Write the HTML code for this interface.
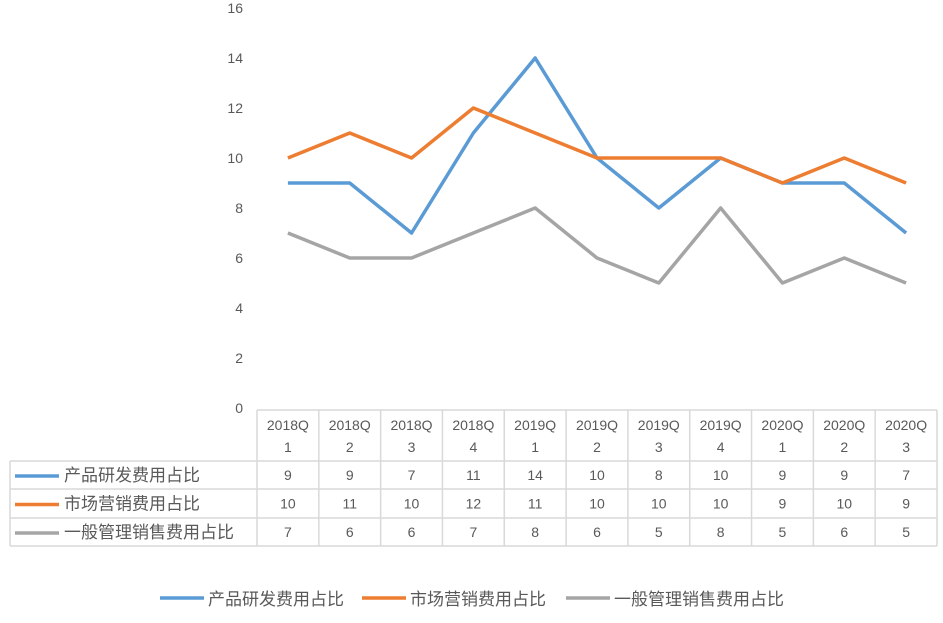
<!DOCTYPE html>
<html><head><meta charset="utf-8"><style>
body{margin:0;background:#fff}
svg text{font-family:"Liberation Sans","Noto Sans CJK SC",sans-serif;fill:#595959}
</style></head><body>
<svg id="chart" width="943" height="618" xmlns="http://www.w3.org/2000/svg"></svg>
<script>
const categories=["2018Q1","2018Q2","2018Q3","2018Q4","2019Q1","2019Q2","2019Q3","2019Q4","2020Q1","2020Q2","2020Q3"];
const seriesNames=["产品研发费用占比","市场营销费用占比","一般管理销售费用占比"];
const seriesColors=["#5b9bd5","#ed7d31","#a5a5a5"];
const rdValues=[9,9,7,11,14,10,8,10,9,9,7];
const mktValues=[10,11,10,12,11,10,10,10,9,10,9];
const adminValues=[7,6,6,7,8,6,5,8,5,6,5];
const yTicks=[0,2,4,6,8,10,12,14,16];
const series=[rdValues,mktValues,adminValues];
const svg=document.getElementById('chart');const NS="http://www.w3.org/2000/svg";
function mk(t,a,p){const e=document.createElementNS(NS,t);for(const k in a)e.setAttribute(k,a[k]);(p||svg).appendChild(e);return e;}
const x0=257,colW=(937-257)/categories.length,y0=408,yMax=16,plotH=400;
const xs=i=>x0+colW*(i+0.5);const ys=v=>y0-v/yMax*plotH;
yTicks.forEach(t=>{const e=mk('text',{x:243,y:ys(t)+5,'text-anchor':'end','font-size':14});e.textContent=t;

});
series.forEach((vals,s)=>{const pts=vals.map((v,i)=>xs(i)+','+ys(v)).join(' ');
const l=mk('polyline',{points:pts,fill:'none',stroke:seriesColors[s],'stroke-width':3.5,'stroke-linejoin':'round'});

});
// table
const g=mk('g',{stroke:'#d9d9d9','stroke-width':1.5,fill:'none'});


const rowY=[461,489,518,546];
mk('line',{x1:x0,y1:410,x2:937,y2:410},g);
for(let i=0;i<=categories.length;i++)mk('line',{x1:x0+colW*i,y1:410,x2:x0+colW*i,y2:546},g);
mk('line',{x1:10,y1:461,x2:10,y2:546},g);
rowY.forEach(y=>mk('line',{x1:10,y1:y,x2:937,y2:y},g));
categories.forEach((c,i)=>{const t=mk('text',{x:xs(i),y:430,'text-anchor':'middle','font-size':14});t.textContent=c.slice(0,5);


const t2=mk('text',{x:xs(i),y:452,'text-anchor':'middle','font-size':14});t2.textContent=c.slice(5);

});
series.forEach((vals,s)=>{const cy=(rowY[s]+rowY[s+1])/2+5;
mk('line',{x1:15,y1:cy-4,x2:59,y2:cy-4,stroke:seriesColors[s],'stroke-width':3.5});
const n=mk('text',{x:64,y:cy+1,'font-size':17});n.textContent=seriesNames[s];


vals.forEach((v,i)=>{const t=mk('text',{x:xs(i),y:cy,'text-anchor':'middle','font-size':14});t.textContent=v;

});});
// legend
const legX=[160,362,566];
seriesNames.forEach((n,s)=>{mk('line',{x1:legX[s],y1:598,x2:legX[s]+44,y2:598,stroke:seriesColors[s],'stroke-width':3.5});
const t=mk('text',{x:legX[s]+48,y:605,'font-size':17});t.textContent=n;

});
</script>
</body></html>
